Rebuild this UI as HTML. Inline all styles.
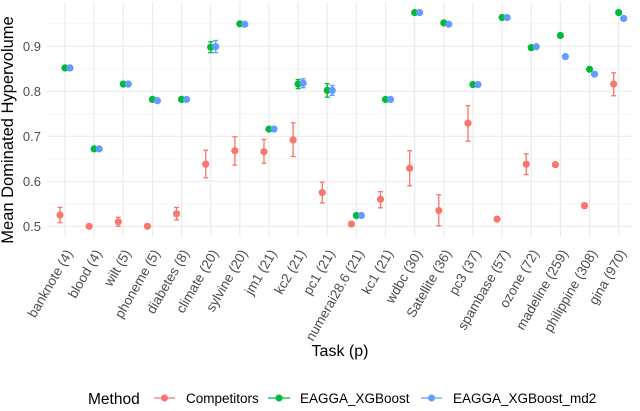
<!DOCTYPE html>
<html><head><meta charset="utf-8"><style>
body{margin:0;background:#fff;font-family:"Liberation Sans",sans-serif}
svg text{font-family:"Liberation Sans",sans-serif}
</style></head><body>
<svg id="chart" width="640" height="406" viewBox="0 0 640 406">
<g id="grid"></g>
<g id="marks"></g>
<g id="axes"></g>
<text x="13" y="130" transform="rotate(-90 13 130)" text-anchor="middle" font-size="16.5" fill="#000">Mean Dominated Hypervolume</text>
<text x="340" y="356" text-anchor="middle" font-size="16" fill="#000">Task (p)</text>
<g>
<text x="88" y="404" font-size="15.5">Method</text>
<g><line x1="154" x2="175" y1="398" y2="398" stroke="#F8766D" stroke-width="1.2"/><circle cx="164.5" cy="398" r="3.5" fill="#F8766D"/><text x="186" y="403" font-size="13.5">Competitors</text></g>
<g><line x1="268" x2="290" y1="398" y2="398" stroke="#00BA38" stroke-width="1.2"/><circle cx="279" cy="398" r="3.5" fill="#00BA38"/><text x="300" y="403" font-size="13.5">EAGGA_XGBoost</text></g>
<g><line x1="421" x2="442" y1="398" y2="398" stroke="#619CFF" stroke-width="1.2"/><circle cx="431.5" cy="398" r="3.5" fill="#619CFF"/><text x="453" y="403" font-size="13.5">EAGGA_XGBoost_md2</text></g>
</g>
</svg>
<script>
const categories=["banknote (4)","blood (4)","wilt (5)","phoneme (5)","diabetes (8)","climate (20)","sylvine (20)","jm1 (21)","kc2 (21)","pc1 (21)","numerai28.6 (21)","kc1 (21)","wdbc (30)","Satellite (36)","pc3 (37)","spambase (57)","ozone (72)","madeline (259)","philippine (308)","gina (970)"];
const compMean=[0.525,0.5,0.510,0.5,0.528,0.638,0.668,0.666,0.692,0.575,0.505,0.560,0.629,0.535,0.729,0.516,0.638,0.637,0.546,0.816];
const compLo=[0.508,0.5,0.500,0.5,0.514,0.608,0.636,0.640,0.655,0.552,0.505,0.541,0.590,0.501,0.689,0.516,0.615,0.634,0.540,0.790];
const compHi=[0.542,0.5,0.520,0.5,0.542,0.669,0.699,0.693,0.730,0.598,0.505,0.577,0.668,0.570,0.768,0.516,0.661,0.640,0.551,0.841];
const xgbMean=[0.852,0.672,0.816,0.782,0.782,0.898,0.950,0.716,0.816,0.802,0.524,0.782,0.975,0.952,0.815,0.964,0.897,0.924,0.849,0.975];
const xgbLo=[0.852,0.672,0.816,0.782,0.782,0.886,0.950,0.716,0.806,0.787,0.524,0.782,0.975,0.952,0.815,0.964,0.897,0.924,0.849,0.975];
const xgbHi=[0.852,0.672,0.816,0.782,0.782,0.910,0.950,0.716,0.826,0.817,0.524,0.782,0.975,0.952,0.815,0.964,0.897,0.924,0.849,0.975];
const md2Mean=[0.852,0.672,0.816,0.779,0.782,0.899,0.949,0.716,0.818,0.802,0.524,0.782,0.975,0.949,0.815,0.964,0.899,0.877,0.838,0.962];
const md2Lo=[0.852,0.672,0.816,0.779,0.782,0.886,0.949,0.716,0.808,0.791,0.524,0.782,0.975,0.949,0.815,0.964,0.899,0.877,0.838,0.962];
const md2Hi=[0.852,0.672,0.816,0.779,0.782,0.913,0.949,0.716,0.828,0.813,0.524,0.782,0.975,0.949,0.815,0.964,0.899,0.877,0.838,0.962];
const yTicks=[0.5,0.6,0.7,0.8,0.9];
const yMinor=[0.55,0.65,0.75,0.85,0.95];

const NS="http://www.w3.org/2000/svg";
const L=47,R=632,T=2,B=237;
const x=i=>65+i*29.14;
const y=v=>226.3-(v-0.5)*450;
function mk(tag,attrs,parent){const e=document.createElementNS(NS,tag);for(const k in attrs)e.setAttribute(k,attrs[k]);parent.appendChild(e);return e;}
const grid=document.getElementById('grid'),marks=document.getElementById('marks'),axes=document.getElementById('axes');
yMinor.forEach(v=>{const l=mk('line',{x1:L,x2:R,y1:y(v),y2:y(v),stroke:'#f2f2f2','stroke-width':0.8},grid);

});
yTicks.forEach(v=>{const l=mk('line',{x1:L,x2:R,y1:y(v),y2:y(v),stroke:'#ebebeb','stroke-width':1.2},grid);


const t=mk('text',{x:41,y:y(v)+4.5,'text-anchor':'end','font-size':13,fill:'#4d4d4d'},axes);t.textContent=v.toFixed(1);

});
categories.forEach((c,i)=>{const l=mk('line',{x1:x(i),x2:x(i),y1:T,y2:B,stroke:'#ebebeb','stroke-width':1.2},grid);


const tx=x(i)+8,ty=253;
const t=mk('text',{x:tx,y:ty,'text-anchor':'end','font-size':13.5,fill:'#4d4d4d',transform:`rotate(-60 ${tx} ${ty})`},axes);t.textContent=c;

});
const series=[[compMean,compLo,compHi,'#F8766D',-5,'competitors'],[xgbMean,xgbLo,xgbHi,'#00BA38',0,'eagga-xgboost'],[md2Mean,md2Lo,md2Hi,'#619CFF',5,'eagga-xgboost-md2']];
series.forEach(([m,lo,hi,col,off,nm])=>{m.forEach((v,i)=>{const cx=x(i)+off;
if(hi[i]-lo[i]>0.003){const g=mk('g',{stroke:col,'stroke-width':1.3},marks);


mk('line',{x1:cx,x2:cx,y1:y(lo[i]),y2:y(hi[i])},g);mk('line',{x1:cx-2.5,x2:cx+2.5,y1:y(lo[i]),y2:y(lo[i])},g);mk('line',{x1:cx-2.5,x2:cx+2.5,y1:y(hi[i]),y2:y(hi[i])},g);}
const p=mk('circle',{cx:cx,cy:y(v),r:3.6,fill:col},marks);

});});
</script>
</body></html>
